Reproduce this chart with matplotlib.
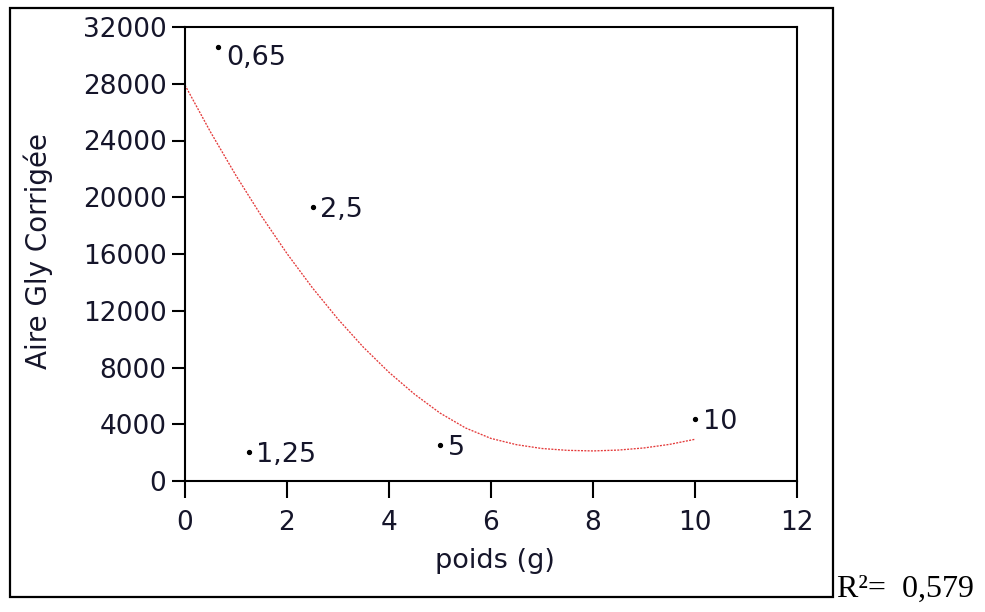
import matplotlib
matplotlib.use("Agg")
import matplotlib.pyplot as plt
from matplotlib.patches import Rectangle

# ---- data ----
poids = [0.65, 1.25, 2.5, 5, 10]
aire = [30590, 2040, 19310, 2540, 4370]
point_labels = ["0,65", "1,25", "2,5", "5", "10"]

# fitted curve, values every 0.5 g
fit_x = [0, 0.5, 1, 1.5, 2, 2.5, 3, 3.5, 4, 4.5, 5,
         5.5, 6, 6.5, 7, 7.5, 8, 8.5, 9, 9.5, 10]
fit_y = [27900, 24600, 21530, 18670, 16030, 13610, 11410, 9420, 7660, 6120, 4790,
         3740, 3000, 2560, 2290, 2160, 2120, 2180, 2330, 2580, 2940]

x_ticks = [0, 2, 4, 6, 8, 10, 12]
y_ticks = [0, 4000, 8000, 12000, 16000, 20000, 24000, 28000, 32000]
r2_text = "R\u00b2=  0,579"

TXT = "#15152a"

fig = plt.figure(figsize=(9.85, 6.12), dpi=100)
fig.patch.set_facecolor("white")

# outer frame
fig.add_artist(Rectangle((10 / 985, 15 / 612), 823 / 985, 589 / 612,
                         transform=fig.transFigure, fill=False,
                         edgecolor="black", linewidth=1.6))

ax = fig.add_axes([185 / 985, 1 - 481 / 612, 612 / 985, 454 / 612])

ax.plot(fit_x, fit_y, color="#e43a3a", linewidth=0.95,
        linestyle=(0, (1.5, 1.0)), zorder=2)
ax.plot(poids, aire, linestyle="none", marker="o", markersize=2.8,
        color="black", zorder=3)

for x, y, lab in zip(poids, aire, point_labels):
    dy = -13 if lab == "0,65" else -7.2
    ax.annotate(lab, (x, y), xytext=(5.5, dy), textcoords="offset points",
                ha="left", va="baseline", fontsize=19.5, color=TXT,
                family="DejaVu Sans")

ax.set_xlim(0, 12)
ax.set_ylim(0, 32000)
ax.set_xticks(x_ticks)
ax.set_yticks(y_ticks)
ax.set_xticklabels([str(t) for t in x_ticks])
ax.set_yticklabels([str(t) for t in y_ticks])

for s in ax.spines.values():
    s.set_linewidth(1.5)
    s.set_color("black")

ax.tick_params(axis="x", direction="out", length=12, width=1.5, pad=9,
               labelsize=19, labelcolor=TXT)
ax.tick_params(axis="y", direction="out", length=9.4, width=1.5, pad=4,
               labelsize=19, labelcolor=TXT)

ax.set_xlabel("poids (g)", fontsize=19.5, color=TXT)
ax.set_ylabel("Aire Gly Corrigée", fontsize=20, color=TXT)
ax.xaxis.set_label_coords(0.5065, -0.148)
ax.yaxis.set_label_coords(-0.216, 0.507)

fig.text(837 / 985, 15 / 612, r2_text, ha="left", va="baseline",
         fontsize=23, family="Liberation Serif", color="black")

fig.savefig("out.png", dpi=100, facecolor="white")
